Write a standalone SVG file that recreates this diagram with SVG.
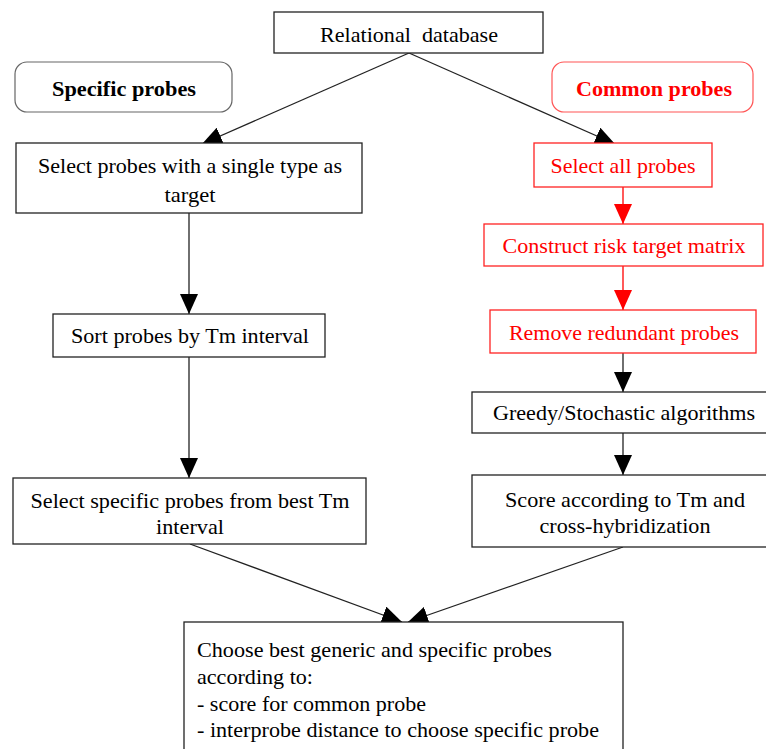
<svg xmlns="http://www.w3.org/2000/svg" width="766" height="749" viewBox="0 0 766 749">
<defs>
<style>
text{font-family:"Liberation Serif","Times New Roman",serif;font-size:22px;fill:#000;text-anchor:middle}
.box{fill:#fff;stroke:#222;stroke-width:1.3}
.rbox{fill:#fff;stroke:#f22;stroke-width:1.3}
.red{fill:#f00}
.b{font-weight:bold}
.l{text-anchor:start}
.c{stroke:#222;stroke-width:1.3;fill:none}
.cr{stroke:#f00;stroke-width:1.3;fill:none}
</style>
<marker id="ab" markerUnits="userSpaceOnUse" markerWidth="20" markerHeight="18" viewBox="0 0 20 18" refX="20" refY="9" orient="auto"><path d="M0,0 L20,9 L0,18 Z" fill="#000"/></marker>
<marker id="ar" markerUnits="userSpaceOnUse" markerWidth="20" markerHeight="18" viewBox="0 0 20 18" refX="20" refY="9" orient="auto"><path d="M0,0 L20,9 L0,18 Z" fill="#f00"/></marker>
</defs>
<rect width="766" height="749" fill="#fff"/>
<g id="connectors">
<path class="c" d="M409,53 L202,144" marker-end="url(#ab)"/>
<path class="c" d="M409,53 L615,144" marker-end="url(#ab)"/>
<path class="c" d="M189,213 L189,314" marker-end="url(#ab)"/>
<path class="c" d="M189,357 L189,478" marker-end="url(#ab)"/>
<path class="cr" d="M623,187 L623,224" marker-end="url(#ar)"/>
<path class="cr" d="M623,266 L623,310" marker-end="url(#ar)"/>
<path class="c" d="M623,353 L623,392" marker-end="url(#ab)"/>
<path class="c" d="M623,433 L623,475" marker-end="url(#ab)"/>
<path class="c" d="M190,544 L402,622" marker-end="url(#ab)"/>
<path class="c" d="M623,547 L408,622" marker-end="url(#ab)"/>
</g>
<g id="relational">
<rect class="box" x="274" y="12" width="269" height="41"/>
<text x="409" y="42" textLength="178" lengthAdjust="spacingAndGlyphs">Relational&#160; database</text>
</g>
<g id="specific-label">
<rect x="15" y="62" width="217" height="50" rx="12" fill="#fff" stroke="#666" stroke-width="1.2"/>
<text class="b" x="124" y="96" textLength="144" lengthAdjust="spacingAndGlyphs">Specific probes</text>
</g>
<g id="common-label">
<rect x="552" y="62" width="201" height="50" rx="12" fill="#fff" stroke="#f55" stroke-width="1.2"/>
<text class="b red" x="654" y="96" textLength="156" lengthAdjust="spacingAndGlyphs">Common probes</text>
</g>
<g id="select-single">
<rect class="box" x="16" y="143" width="346" height="70"/>
<text x="190" y="173" textLength="304" lengthAdjust="spacingAndGlyphs">Select probes with a single type as</text>
<text x="190" y="202" textLength="51" lengthAdjust="spacingAndGlyphs">target</text>
</g>
<g id="sort">
<rect class="box" x="53" y="314" width="272" height="43"/>
<text x="190" y="343" textLength="238" lengthAdjust="spacingAndGlyphs">Sort probes by Tm interval</text>
</g>
<g id="select-specific">
<rect class="box" x="13" y="478" width="353" height="66"/>
<text x="190" y="508" textLength="319" lengthAdjust="spacingAndGlyphs">Select specific probes from best Tm</text>
<text x="190" y="534" textLength="68" lengthAdjust="spacingAndGlyphs">interval</text>
</g>
<g id="select-all">
<rect class="rbox" x="534" y="143" width="178" height="44"/>
<text class="red" x="623" y="173" textLength="145" lengthAdjust="spacingAndGlyphs">Select all probes</text>
</g>
<g id="construct">
<rect class="rbox" x="484" y="224" width="279" height="42"/>
<text class="red" x="624" y="253" textLength="243" lengthAdjust="spacingAndGlyphs">Construct risk target matrix</text>
</g>
<g id="remove">
<rect class="rbox" x="490" y="310" width="266" height="43"/>
<text class="red" x="624" y="340" textLength="230" lengthAdjust="spacingAndGlyphs">Remove redundant probes</text>
</g>
<g id="greedy">
<rect class="box" x="472" y="392" width="296" height="41"/>
<text x="624" y="420" textLength="262" lengthAdjust="spacingAndGlyphs">Greedy/Stochastic algorithms</text>
</g>
<g id="score">
<rect class="box" x="472" y="475" width="296" height="72"/>
<text x="625" y="507" textLength="240" lengthAdjust="spacingAndGlyphs">Score according to Tm and</text>
<text x="625" y="533" textLength="171" lengthAdjust="spacingAndGlyphs">cross-hybridization</text>
</g>
<g id="choose">
<rect class="box" x="184" y="622" width="439" height="140"/>
<text class="l" x="197" y="657" textLength="355" lengthAdjust="spacingAndGlyphs">Choose best generic and specific probes</text>
<text class="l" x="197" y="684" textLength="116" lengthAdjust="spacingAndGlyphs">according to:</text>
<text class="l" x="197" y="711" textLength="229" lengthAdjust="spacingAndGlyphs">- score for common probe</text>
<text class="l" x="197" y="737" textLength="402" lengthAdjust="spacingAndGlyphs">- interprobe distance to choose specific probe</text>
</g>
</svg>
